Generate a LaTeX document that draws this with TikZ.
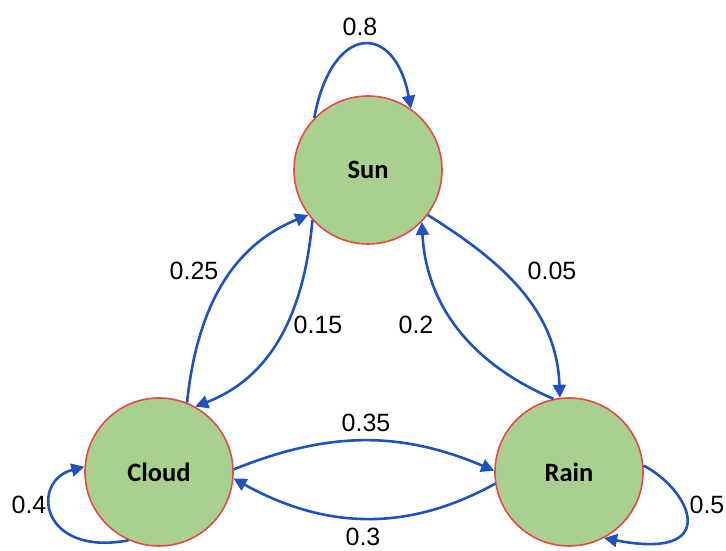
\documentclass[tikz,border=0pt]{standalone}
\usepackage{fontspec}
\setmainfont{Liberation Sans}
\newfontfamily\statefont{Carlito}
\usetikzlibrary{arrows.meta}
\definecolor{stategreen}{RGB}{169,208,142}
\definecolor{statered}{RGB}{232,72,72}
\definecolor{edgeblue}{RGB}{30,82,188}
\tikzset{
  state/.style={circle, draw=statered, line width=1.6pt, fill=stategreen,
    minimum size=148pt, inner sep=0pt,
    font=\statefont\bfseries\fontsize{26.5}{30}\selectfont},
  trans/.style={draw=edgeblue, line width=2.6pt,
    -{Triangle[length=13pt,width=13pt]}},
  prob/.style={font=\fontsize{25}{29}\selectfont, inner sep=0pt}
}
\begin{document}
\begin{tikzpicture}[x=1pt,y=1pt]
  \useasboundingbox (0,0) rectangle (726,551);

  % weather states
  \node[state] (sun)   at (368,381) {Sun};
  \node[state] (cloud) at (159,79)  {Cloud};
  \node[state] (rain)  at (569,79)  {Rain};

  % self transitions
  \draw[trans] (sun.136) .. controls (332,529) and (395,529) .. (sun.55);
  \draw[trans] (cloud.246) .. controls (40,-6) and (30,70) .. (cloud.176);
  \draw[trans] (rain.5) .. controls (692,60) and (722,-10) .. (rain.-62);

  % Sun <-> Cloud
  \draw[trans] (cloud.68) to[out=84,in=202] (sun.217);
  \draw[trans] (sun.222) to[out=265,in=21] (cloud.61);

  % Sun <-> Rain
  \draw[trans] (sun.-37) to[out=-32,in=92] (rain.97);
  \draw[trans] (rain.102) to[out=157,in=273] (sun.-44);

  % Cloud <-> Rain
  \draw[trans] (cloud.2) to[out=22,in=157] (rain.179);
  \draw[trans] (rain.189) to[out=209,in=-29] (cloud.-5);

  % transition probabilities
  \node[prob] (p-ss) at (360,524) {0.8};
  \node[prob] (p-cs) at (194,280) {0.25};
  \node[prob] (p-sc) at (318,226) {0.15};
  \node[prob] (p-sr) at (552,280) {0.05};
  \node[prob] (p-rs) at (416,226) {0.2};
  \node[prob] (p-cr) at (366,128) {0.35};
  \node[prob] (p-rc) at (363,14)  {0.3};
  \node[prob] (p-cc) at (29,46)   {0.4};
  \node[prob] (p-rr) at (707,46)  {0.5};
\end{tikzpicture}
\end{document}
